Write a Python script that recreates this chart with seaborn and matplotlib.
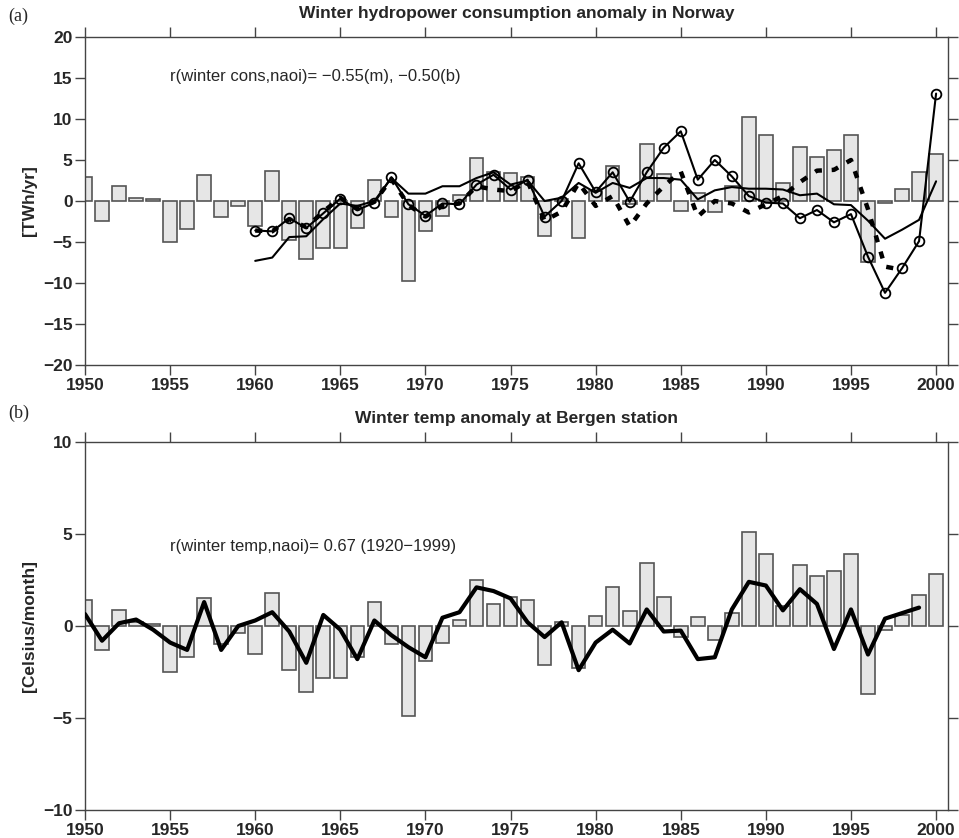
import numpy as np
import pandas as pd
import matplotlib
matplotlib.use("Agg")
import matplotlib.pyplot as plt
import seaborn as sns

years = list(range(1950, 2001))

cons_obs = [2.9, -2.4, 1.8, 0.4, 0.3, -5.0, -3.4, 3.2, -2.0, -0.6,
            -3.0, 3.7, -4.7, -7.1, -5.7, -5.7, -3.3, 2.6, -2.0, -9.8,
            -3.7, -1.8, 0.7, 5.2, 3.5, 3.4, 2.9, -4.3, 0.3, -4.5,
            1.2, 4.3, -0.4, 6.9, 3.3, -1.2, 1.0, -1.4, 1.8, 10.2,
            8.0, 2.2, 6.6, 5.4, 6.2, 8.0, -7.5, -0.3, 1.5, 3.5, 5.7]

years_m = list(range(1960, 2001))
cons_m = [-3.6, -3.7, -2.1, -3.3, -1.5, 0.3, -1.1, -0.2, 2.9, -0.4,
          -1.8, -0.3, -0.4, 2.0, 3.2, 1.4, 2.6, -1.9, 0.0, 4.6,
          1.1, 3.5, -0.1, 3.5, 6.5, 8.5, 2.6, 5.0, 3.0, 0.6,
          -0.2, -0.3, -2.1, -1.1, -2.6, -1.6, -6.8, -11.2, -8.2, -4.9, 13.1]

years_s = list(range(1960, 2001))
cons_s = [-7.3, -6.9, -4.4, -4.3, -2.2, -0.3, -0.6, 0.0, 2.8, 0.9,
          0.9, 1.8, 1.8, 2.8, 3.5, 2.0, 2.5, 0.0, 0.4, 2.2,
          1.0, 2.2, 1.6, 2.8, 2.8, 2.6, 0.2, 1.3, 1.7, 1.5,
          1.5, 1.4, 0.7, 0.9, -0.4, -0.5, -2.4, -4.6, -3.5, -2.3, 2.4]

years_b = list(range(1960, 1999))
cons_b = [-3.6, -3.7, -2.2, -3.2, -1.3, 0.4, -1.0, -0.1, 2.7, -0.5,
          -1.9, -0.6, -0.3, 1.8, 1.4, 1.2, 2.4, -2.4, -1.3, 2.2,
          -0.6, 0.6, -3.1, -0.3, 1.8, 3.6, -1.9, 0.0, -0.3, -1.4,
          -0.4, 0.6, 2.3, 3.7, 3.8, 5.0, -1.0, -8.0, -8.4]

temp_obs = [1.4, -1.3, 0.85, 0.2, 0.1, -2.5, -1.7, 1.5, -1.0, -0.4,
            -1.5, 1.8, -2.4, -3.6, -2.8, -2.8, -1.7, 1.3, -1.0, -4.9,
            -1.9, -0.95, 0.35, 2.5, 1.2, 1.6, 1.4, -2.1, 0.2, -2.3,
            0.55, 2.1, 0.8, 3.4, 1.6, -0.6, 0.5, -0.75, 0.7, 5.1,
            3.9, 1.1, 3.3, 2.7, 3.0, 3.9, -3.7, -0.2, 0.6, 1.7, 2.8]

years_t = list(range(1950, 2000))
temp_line = [0.65, -0.8, 0.15, 0.35, -0.2, -0.9, -1.3, 1.3, -1.3, 0.0,
             0.3, 0.75, -0.3, -2.0, 0.6, -0.2, -1.8, 0.3, -0.5, -1.15,
             -1.7, 0.45, 0.75, 2.1, 1.9, 1.5, 0.2, -0.6, 0.2, -2.4,
             -0.9, -0.2, -0.95, 0.9, -0.3, -0.25, -1.8, -1.7, 0.9, 2.4,
             2.2, 0.85, 2.0, 1.2, -1.25, 0.9, -1.55, 0.4, 0.7, 1.0]

xticks = [1950, 1955, 1960, 1965, 1970, 1975, 1980, 1985, 1990, 1995, 2000]

sns.set_style("ticks")
plt.rcParams['font.family'] = ['Liberation Sans', 'DejaVu Sans']

W, H = 959, 838
fig = plt.figure(figsize=(W / 100, H / 100), dpi=100)

def fr(l, t, r, b):
    return [l / W, 1 - b / H, (r - l) / W, (b - t) / H]

ax1 = fig.add_axes(fr(85, 37, 948, 365))
ax2 = fig.add_axes(fr(85, 442, 948, 810))

spine_col = '#444444'
bar_face = '#e6e6e6'
bar_edge = '#555555'

def style_axes(ax, ylim, yticks):
    ax.set_xlim(1950, 2000.7)
    ax.set_ylim(*ylim)
    ax.set_xticks(xticks)
    ax.set_xticklabels([str(x) for x in xticks])
    ax.set_yticks(yticks)
    ax.set_yticklabels([("\u2212" + str(-v)) if v < 0 else str(v) for v in yticks])
    ax.tick_params(direction='out', length=7, width=1.0, color=spine_col,
                   top=True, right=True, labelsize=12.5, pad=2)
    for lab in ax.get_xticklabels() + ax.get_yticklabels():
        lab.set_fontweight('bold')
    for s in ax.spines.values():
        s.set_visible(True)
        s.set_color(spine_col)
        s.set_linewidth(1.0)
    ax.set_xlabel('')

# Panel (a)
sns.barplot(x=years, y=cons_obs, native_scale=True, ax=ax1, color=bar_face,
            saturation=1, edgecolor=bar_edge, linewidth=1.2, width=0.8,
            errorbar=None, zorder=2)
sns.lineplot(x=years_b, y=cons_b, ax=ax1, color='black', lw=3.2,
             linestyle=(0, (1.6, 2.2)), zorder=3)
sns.lineplot(x=years_s, y=cons_s, ax=ax1, color='black', lw=1.5, zorder=4)
sns.lineplot(x=years_m, y=cons_m, ax=ax1, color='black', lw=1.5, marker='o',
             markersize=7, markerfacecolor='none', markeredgecolor='black',
             markeredgewidth=1.3, zorder=5)
style_axes(ax1, (-20, 20), [-20, -15, -10, -5, 0, 5, 10, 15, 20])
ax1.set_ylabel('[TWh/yr]', fontweight='bold', fontsize=12.5, labelpad=4)
ax1.set_title('Winter hydropower consumption anomaly in Norway',
              fontweight='bold', fontsize=12.5, pad=14)
ax1.text(1955, 15.2, 'r(winter cons,naoi)= \u22120.55(m), \u22120.50(b)',
         fontsize=12, ha='left', va='center')

# Panel (b)
sns.barplot(x=years, y=temp_obs, native_scale=True, ax=ax2, color=bar_face,
            saturation=1, edgecolor=bar_edge, linewidth=1.2, width=0.8,
            errorbar=None, zorder=2)
sns.lineplot(x=years_t, y=temp_line, ax=ax2, color='black', lw=3.0, zorder=4)
style_axes(ax2, (-10, 10), [-10, -5, 0, 5, 10])
ax2.set_ylabel('[Celsius/month]', fontweight='bold', fontsize=12.5, labelpad=4)
ax2.set_title('Winter temp anomaly at Bergen station',
              fontweight='bold', fontsize=12.5, pad=14)
ax2.text(1955, 4.3, 'r(winter temp,naoi)= 0.67 (1920\u22121999)',
         fontsize=12, ha='left', va='center')

fig.text(8 / W, 1 - 16 / H, '(a)', family='Liberation Serif', fontsize=13,
         ha='left', va='center')
fig.text(8 / W, 1 - 413 / H, '(b)', family='Liberation Serif', fontsize=13,
         ha='left', va='center')

fig.savefig('out.png', dpi=100)
